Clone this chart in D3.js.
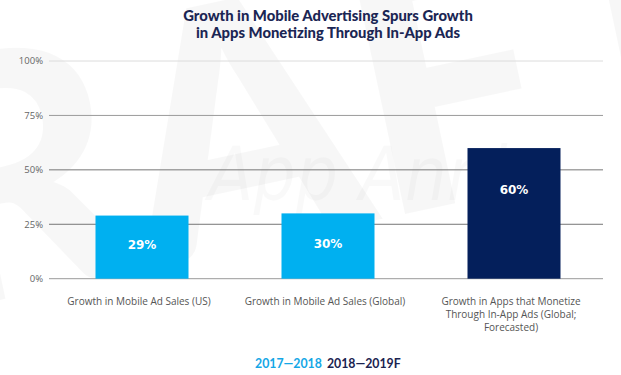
<!DOCTYPE html>
<html>
<head>
<meta charset="utf-8">
<script src="https://cdn.jsdelivr.net/npm/d3@7"></script>
<style>
  body { margin: 0; background: #fff; }
  svg { display: block; }
</style>
</head>
<body>
<svg id="chart" width="621" height="375"></svg>
<script>
const titleLines = ['Growth in Mobile Advertising Spurs Growth', 'in Apps Monetizing Through In-App Ads'];
const categories = [
  ['Growth in Mobile Ad Sales (US)'],
  ['Growth in Mobile Ad Sales (Global)'],
  ['Growth in Apps that Monetize', 'Through In-App Ads (Global;', 'Forecasted)'],
];
const values = [29, 30, 60];
const periods = ['2017—2018', '2017—2018', '2018—2019F'];
const legendItems = ['2017—2018', '2018—2019F'];
const yTicks = [0, 25, 50, 75, 100];

const colors = { '2017—2018': '#00b0f0', '2018—2019F': '#041f5b' };
const legendColors = { '2017—2018': '#15a7e6', '2018—2019F': '#1b2350' };
const font = 'Lato, "Open Sans", sans-serif';
const bodyFont = '"Open Sans", Lato, sans-serif';

const svg = d3.select('#chart');

const x = d3.scaleBand()
  .domain(d3.range(values.length))
  .range([49, 607])
  .paddingInner(0.5)
  .paddingOuter(0.25);

const y = d3.scaleLinear().domain([0, 100]).range([278.7, 61]);

// watermark
svg.append('text')
  .attr('x', -330)
  .attr('y', 300)
  .attr('transform', 'rotate(-12, 0, 300)')
  .attr('font-family', font)
  .attr('font-weight', 900)
  .attr('font-size', 340)
  .attr('fill', '#000')
  .attr('fill-opacity', 0.03)
  .text('DRAFT');

svg.append('text')
  .attr('x', 208)
  .attr('y', 200)
  .attr('font-family', '"Liberation Sans Narrow", "DejaVu Sans Condensed", sans-serif')
  .attr('font-style', 'italic')
  .attr('font-size', 74)
  .attr('fill', '#000')
  .attr('fill-opacity', 0.025)
  .text('App Annie');

// title
svg.append('text')
  .attr('text-anchor', 'middle')
  .attr('font-family', font)
  .attr('font-weight', 900)
  .attr('font-size', 14.8)
  .attr('fill', '#1b2654')
  .selectAll('tspan')
  .data(titleLines)
  .join('tspan')
  .attr('x', 328)
  .attr('y', (d, i) => 20.5 + i * 17)
  .text(d => d);

// grid + y labels
const grid = svg.append('g');
grid.selectAll('line')
  .data(yTicks)
  .join('line')
  .attr('x1', 49)
  .attr('x2', 603)
  .attr('y1', d => y(d))
  .attr('y2', d => y(d))
  .attr('stroke', d => d === 100 ? '#dcdcdc' : (d === 0 || d === 75 ? '#9a9a9a' : '#767676'))
  .attr('stroke-width', 1);

grid.selectAll('text')
  .data(yTicks)
  .join('text')
  .attr('x', 43)
  .attr('y', d => y(d))
  .attr('dy', '0.35em')
  .attr('text-anchor', 'end')
  .attr('font-family', bodyFont)
  .attr('font-size', 9.5)
  .attr('fill', '#666')
  .text(d => d + '%');

// bars
svg.append('g')
  .selectAll('rect')
  .data(values)
  .join('rect')
  .attr('x', (d, i) => x(i))
  .attr('y', d => y(d))
  .attr('width', x.bandwidth())
  .attr('height', d => y(0) - y(d))
  .attr('fill', (d, i) => colors[periods[i]]);

// value labels: centred in short bars, near the top of tall ones
svg.append('g')
  .selectAll('text')
  .data(values)
  .join('text')
  .attr('x', (d, i) => x(i) + x.bandwidth() / 2)
  .attr('y', d => Math.min(y(d / 2) - 2, y(d) + 42))
  .attr('dy', '0.35em')
  .attr('text-anchor', 'middle')
  .attr('font-family', '"DejaVu Sans", sans-serif')
  .attr('font-weight', 700)
  .attr('font-size', 12)
  .attr('fill', '#fff')
  .text(d => d + '%');

// category labels
svg.append('g')
  .selectAll('text')
  .data(categories)
  .join('text')
  .attr('text-anchor', 'middle')
  .attr('font-family', bodyFont)
  .attr('font-size', 10)
  .attr('fill', '#555')
  .each(function (lines, i) {
    d3.select(this).selectAll('tspan')
      .data(lines)
      .join('tspan')
      .attr('x', x(i) + x.bandwidth() / 2 - 3)
      .attr('y', (d, j) => 304.5 + j * 13)
      .text(d => d);
  });

// legend
const legend = svg.append('text')
  .attr('x', 255)
  .attr('y', 368)
  .attr('font-family', font)
  .attr('font-weight', 700)
  .attr('font-size', 12.3);
legend.selectAll('tspan')
  .data(legendItems)
  .join('tspan')
  .attr('dx', (d, i) => i ? 5 : 0)
  .attr('fill', d => legendColors[d])
  .text(d => d);
</script>
</body>
</html>
